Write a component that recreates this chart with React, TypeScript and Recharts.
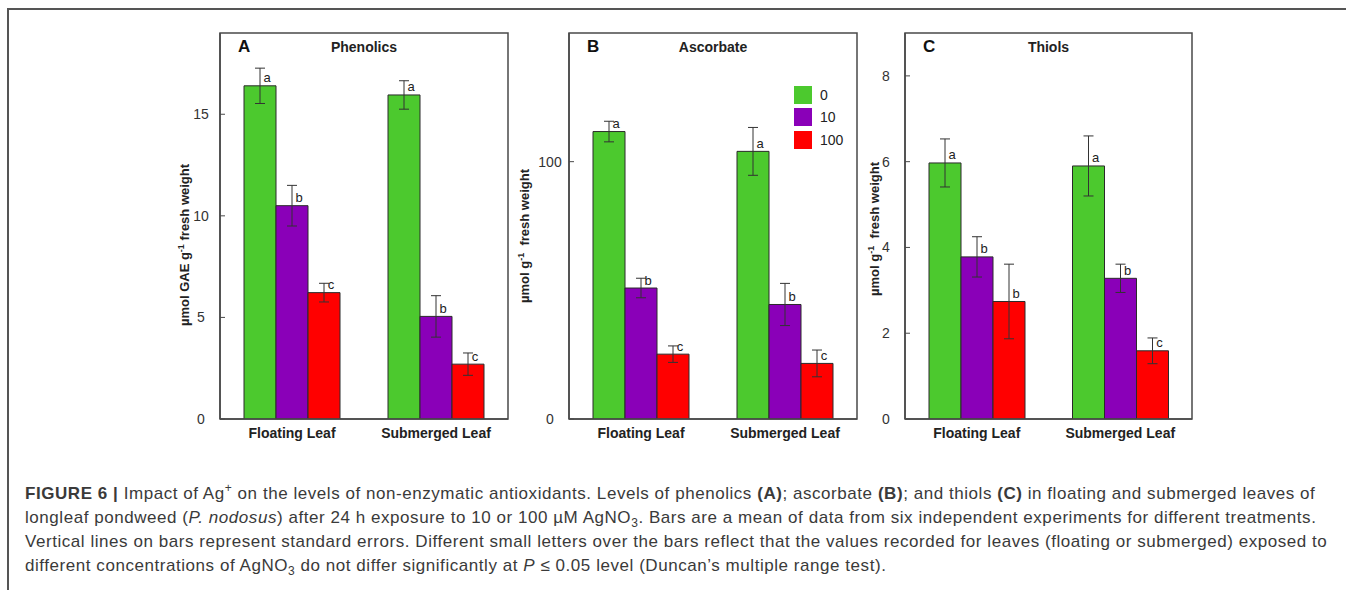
import React from "react";
import {
  BarChart,
  Bar,
  XAxis,
  YAxis,
  ErrorBar,
  LabelList,
  Legend,
  ReferenceArea,
} from "recharts";

// categories / treatments
const categories = ["Floating Leaf", "Submerged Leaf"];
const treatments = ["0", "10", "100"];
const colors = ["#4cc92e", "#8a00b8", "#ff0000"];

// (A) phenolics, µmol GAE g-1 FW
const phenolicsMean = [
  [16.4, 15.95],
  [10.5, 5.05],
  [6.22, 2.7],
];
const phenolicsSE = [
  [0.87, 0.7],
  [1.0, 1.02],
  [0.46, 0.55],
];
const phenolicsLetters = [
  ["a", "a"],
  ["b", "b"],
  ["c", "c"],
];
const phenolicsTicks = [0, 5, 10, 15];

// (B) ascorbate, µmol g-1 FW
const ascorbateMean = [
  [111.7, 104.0],
  [50.9, 44.5],
  [25.2, 21.6],
];
const ascorbateSE = [
  [4.0, 9.3],
  [3.8, 8.2],
  [3.2, 5.2],
];
const ascorbateLetters = [
  ["a", "a"],
  ["b", "b"],
  ["c", "c"],
];
const ascorbateTicks = [0, 100];

// (C) thiols, µmol g-1 FW
const thiolsMean = [
  [5.97, 5.9],
  [3.78, 3.28],
  [2.74, 1.59],
];
const thiolsSE = [
  [0.56, 0.7],
  [0.47, 0.33],
  [0.87, 0.3],
];
const thiolsLetters = [
  ["a", "a"],
  ["b", "b"],
  ["b", "c"],
];
const thiolsTicks = [0, 2, 4, 6, 8];

const buildRows = (mean: number[][], se: number[][], letters: string[][]) =>
  categories.map((cat, ci) => {
    const row: Record<string, string | number> = { cat };
    treatments.forEach((_, ti) => {
      row[`v${ti}`] = mean[ti][ci];
      row[`e${ti}`] = se[ti][ci];
      row[`l${ti}`] = letters[ti][ci];
    });
    return row;
  });

const FONT = "'Liberation Sans', Arial, sans-serif";
const FRAME = "#4a4a4a";
const AXIS_W = 60;

const makeTick = (props: any) => {
  const { y, payload } = props;
  return (
    <g>
      <line x1={AXIS_W} x2={AXIS_W + 5} y1={y} y2={y} stroke={FRAME} strokeWidth={1} />
      <text
        x={AXIS_W - 19}
        y={y}
        textAnchor="middle"
        dominantBaseline="central"
        fontSize={14}
        fill="#333"
        fontFamily={FONT}
      >
        {payload.value}
      </text>
    </g>
  );
};

const makeLetter = (key: string, rows: any[]) => (props: any) => {
  const { x, y, width, index } = props;
  return (
    <text
      x={x + width / 2 + 7}
      y={y - 8}
      textAnchor="middle"
      dominantBaseline="central"
      fontSize={13}
      fill="#222"
      fontFamily={FONT}
    >
      {rows[index][key]}
    </text>
  );
};

const LegendBox = (props: any) => (
  <div style={{ fontFamily: FONT, fontSize: 14, color: "#222" }}>
    {(props.payload || []).map((e: any) => (
      <div key={e.value} style={{ display: "flex", alignItems: "center", height: 22.3 }}>
        <span
          style={{
            display: "inline-block",
            width: 18,
            height: 18,
            background: e.color,
            marginRight: 8,
          }}
        />
        <span>{e.value}</span>
      </div>
    ))}
  </div>
);

type PanelProps = {
  left: number;
  letter: string;
  title: string;
  yTitle: React.ReactNode;
  yTitleX: number;
  yTitleY: number;
  rows: any[];
  max: number;
  ticks: number[];
  marginRight: number;
  legend?: boolean;
};

const Panel = ({
  left,
  letter,
  title,
  yTitle,
  yTitleX,
  yTitleY,
  rows,
  max,
  ticks,
  marginRight,
  legend,
}: PanelProps) => {
  const plotW = 360 - AXIS_W - marginRight;
  return (
    <div style={{ position: "absolute", left, top: 0, width: 360, height: 460 }}>
      <BarChart
        width={360}
        height={460}
        data={rows}
        margin={{ top: 33, right: marginRight, bottom: 11, left: 0 }}
        barGap={0}
        barSize={32}
      >
        <XAxis
          dataKey="cat"
          tickLine={false}
          tickSize={0}
          tickMargin={9}
          axisLine={{ stroke: FRAME, strokeWidth: 1.5 }}
          tick={{ fontSize: 14, fontWeight: "bold", fill: "#222", fontFamily: FONT }}
          height={30}
          interval={0}
        />
        <YAxis
          domain={[0, max]}
          ticks={ticks}
          width={AXIS_W}
          tickLine={false}
          tickSize={0}
          axisLine={{ stroke: FRAME, strokeWidth: 1.5 }}
          tick={makeTick}
          allowDataOverflow
        />
        {legend && (
          <Legend
            layout="vertical"
            verticalAlign="middle"
            align="center"
            content={LegendBox}
            wrapperStyle={{ position: "absolute", left: 285, top: 84, width: 80 }}
          />
        )}
        {treatments.map((t, ti) => (
          <Bar
            key={t}
            dataKey={`v${ti}`}
            name={t}
            fill={colors[ti]}
            stroke="#2a2a2a"
            strokeWidth={1}
            isAnimationActive={false}
          >
            <ErrorBar dataKey={`e${ti}`} width={5} stroke="#333" strokeWidth={1} direction="y" />
            <LabelList dataKey={`l${ti}`} content={makeLetter(`l${ti}`, rows)} />
          </Bar>
        ))}
        {/* plot frame */}
        <ReferenceArea
          y1={0}
          y2={max}
          fill="none"
          fillOpacity={0}
          stroke={FRAME}
          strokeWidth={1.5}
          ifOverflow="visible"
        />
      </BarChart>
      <div
        style={{
          position: "absolute",
          left: AXIS_W + 18,
          top: 37,
          fontFamily: FONT,
          fontWeight: "bold",
          fontSize: 17,
          lineHeight: "20px",
          color: "#111",
        }}
      >
        {letter}
      </div>
      <div
        style={{
          position: "absolute",
          left: AXIS_W,
          width: plotW,
          top: 38,
          textAlign: "center",
          fontFamily: FONT,
          fontWeight: "bold",
          fontSize: 14,
          lineHeight: "18px",
          color: "#222",
        }}
      >
        {title}
      </div>
      <div
        style={{
          position: "absolute",
          left: yTitleX,
          top: yTitleY,
          transform: "translate(-50%, -50%) rotate(-90deg)",
          whiteSpace: "nowrap",
          fontFamily: FONT,
          fontWeight: "bold",
          fontSize: 13,
          lineHeight: "16px",
          color: "#222",
        }}
      >
        {yTitle}
      </div>
    </div>
  );
};

const sup = { fontSize: 9, verticalAlign: "5px", lineHeight: 0 } as React.CSSProperties;
const small = { fontSize: 12, lineHeight: 0 } as React.CSSProperties;

export default function App() {
  return (
    <div
      style={{
        position: "absolute",
        left: 0,
        top: 0,
        width: 1346,
        height: 590,
        background: "#fff",
        overflow: "hidden",
      }}
    >
      <div style={{ position: "absolute", left: 8, top: 8, width: 1338, height: 2, background: "#555" }} />
      <div style={{ position: "absolute", left: 7, top: 8, width: 2, height: 582, background: "#555" }} />

      <Panel
        left={160}
        letter="A"
        title="Phenolics"
        yTitle={
          <span>
            µmol GAE g<span style={sup}>-1</span> fresh weight
          </span>
        }
        yTitleX={25}
        yTitleY={245}
        rows={buildRows(phenolicsMean, phenolicsSE, phenolicsLetters)}
        max={19}
        ticks={phenolicsTicks}
        marginRight={12}
      />
      <Panel
        left={509}
        letter="B"
        title="Ascorbate"
        yTitle={
          <span>
            µmol g<span style={sup}>-1</span>&nbsp; fresh weight
          </span>
        }
        yTitleX={16}
        yTitleY={236}
        rows={buildRows(ascorbateMean, ascorbateSE, ascorbateLetters)}
        max={150}
        ticks={ascorbateTicks}
        marginRight={12}
        legend
      />
      <Panel
        left={845}
        letter="C"
        title="Thiols"
        yTitle={
          <span>
            µmol g<span style={sup}>-1</span>&nbsp; fresh weight
          </span>
        }
        yTitleX={30}
        yTitleY={229}
        rows={buildRows(thiolsMean, thiolsSE, thiolsLetters)}
        max={9}
        ticks={thiolsTicks}
        marginRight={13}
      />

      <div
        style={{
          position: "absolute",
          left: 25,
          top: 482,
          fontFamily: FONT,
          fontSize: 17,
          letterSpacing: "0.55px",
          lineHeight: "24px",
          color: "#3a3a3a",
          whiteSpace: "nowrap",
        }}
      >
        <div>
          <b>FIGURE 6 |</b> Impact of Ag<sup style={small}>+</sup> on the levels of non-enzymatic antioxidants.
          Levels of phenolics <b>(A)</b>; ascorbate <b>(B)</b>; and thiols <b>(C)</b> in floating and submerged
          leaves of
        </div>
        <div>
          longleaf pondweed (<i>P. nodosus</i>) after 24 h exposure to 10 or 100 µM AgNO
          <sub style={small}>3</sub>. Bars are a mean of data from six independent experiments for different
          treatments.
        </div>
        <div>
          Vertical lines on bars represent standard errors. Different small letters over the bars reflect that
          the values recorded for leaves (floating or submerged) exposed to
        </div>
        <div>
          different concentrations of AgNO<sub style={small}>3</sub> do not differ significantly at <i>P</i>{" "}
          ≤ 0.05 level (Duncan’s multiple range test).
        </div>
      </div>
    </div>
  );
}
